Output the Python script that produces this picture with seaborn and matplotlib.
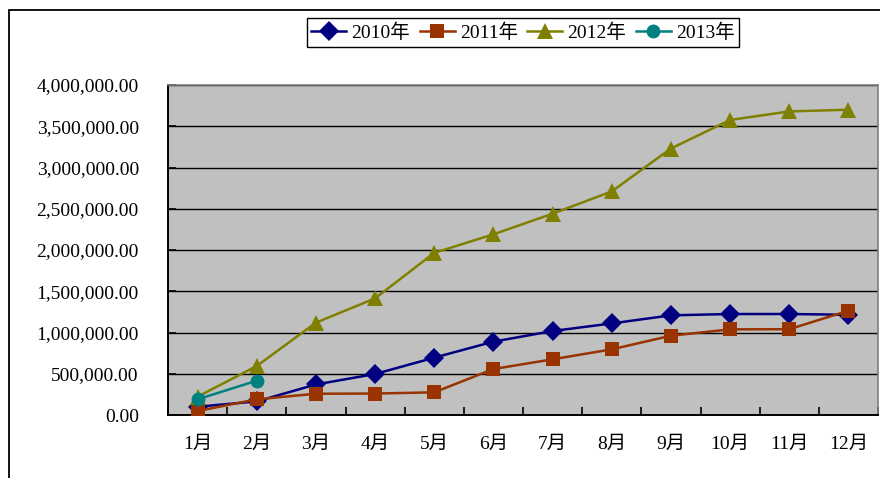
import numpy as np
import pandas as pd
import matplotlib
matplotlib.use("Agg")
import matplotlib.pyplot as plt
import seaborn as sns
from matplotlib.patches import Rectangle
from matplotlib.ticker import FuncFormatter, FixedLocator

# month labels and monthly values per year
months = ["1月", "2月", "3月", "4月", "5月", "6月",
          "7月", "8月", "9月", "10月", "11月", "12月"]
years = ["2010年", "2011年", "2012年", "2013年"]

values_2010 = [100000, 165000, 370000, 497000, 695000, 889000,
               1018000, 1110000, 1208000, 1224000, 1224000, 1215000]
values_2011 = [48000, 190000, 258000, 260000, 275000, 557000,
               675000, 796000, 961000, 1038000, 1040000, 1264000]
values_2012 = [222000, 594000, 1119000, 1414000, 1965000, 2190000,
               2440000, 2710000, 3230000, 3576000, 3680000, 3700000]
values_2013 = [190000, 416000]

y_ticks = [0, 500000, 1000000, 1500000, 2000000,
           2500000, 3000000, 3500000, 4000000]

colors = {"2010年": "#000080", "2011年": "#993300",
          "2012年": "#808000", "2013年": "#008080"}
markers = {"2010年": "D", "2011年": "s", "2012年": "^", "2013年": "o"}
marker_sizes = {"2010年": 10, "2011年": 10, "2012年": 12, "2013年": 10}

# long table for seaborn
rows = []
for year, vals in zip(years, [values_2010, values_2011, values_2012, values_2013]):
    for i, v in enumerate(vals):
        rows.append({"year": year, "pos": i, "value": v})
df = pd.DataFrame(rows)

plt.rcParams["font.family"] = ["Liberation Serif", "Noto Sans CJK SC", "DejaVu Sans"]

fig = plt.figure(figsize=(8.8, 4.78), dpi=100)
ax = fig.add_axes([168 / 880, 63 / 478, 710 / 880, 330 / 478])
ax.set_facecolor("#C0C0C0")

# outer chart border (runs off the right and bottom edge)
fig.patches.append(Rectangle((9 / 880, -0.1), 1.2, (478 - 10.5) / 478 + 0.1,
                             transform=fig.transFigure, fill=False,
                             edgecolor="black", linewidth=1.3, zorder=0))

for year in years:
    sub = df[df["year"] == year]
    sns.lineplot(data=sub, x="pos", y="value", ax=ax, color=colors[year],
                 marker=markers[year], markersize=marker_sizes[year],
                 markeredgewidth=0, linewidth=1.8, label=year, sort=False,
                 zorder=3)

ax.set_xlim(-0.5, 11.5)
ax.set_ylim(0, 4000000)
ax.set_yticks(y_ticks)
ax.yaxis.set_major_formatter(FuncFormatter(lambda v, p: f"{v:,.2f}"))
ax.grid(axis="y", color="black", linewidth=1.0)
ax.set_axisbelow(True)

ax.set_xticks(range(len(months)))
ax.set_xticklabels(months)
ax.xaxis.set_minor_locator(FixedLocator(np.arange(-0.5, 12, 1)))
ax.tick_params(axis="x", which="major", length=0, pad=15, labelsize=14)
ax.tick_params(axis="x", which="minor", direction="in", length=6, width=1.2)
ax.tick_params(axis="y", direction="in", length=6, width=1.2, pad=21, labelsize=14)
ax.set_xlabel("")
ax.set_ylabel("")

for side in ["left", "bottom"]:
    ax.spines[side].set_color("black")
    ax.spines[side].set_linewidth(1.4)
for side in ["top", "right"]:
    ax.spines[side].set_color("#808080")
    ax.spines[side].set_linewidth(1.2)

ax.legend_.remove()
handles, labels = ax.get_legend_handles_labels()
leg = fig.legend(handles, labels, loc="center", ncol=4,
                 bbox_to_anchor=(523 / 880, (478 - 32.5) / 478),
                 bbox_transform=fig.transFigure, frameon=True, fancybox=False,
                 edgecolor="black", framealpha=1, fontsize=14,
                 handlelength=1.8, handletextpad=0.25, columnspacing=0.5,
                 borderpad=0.25, borderaxespad=0)
leg.get_frame().set_linewidth(1.0)

fig.savefig("out.png", dpi=100)
